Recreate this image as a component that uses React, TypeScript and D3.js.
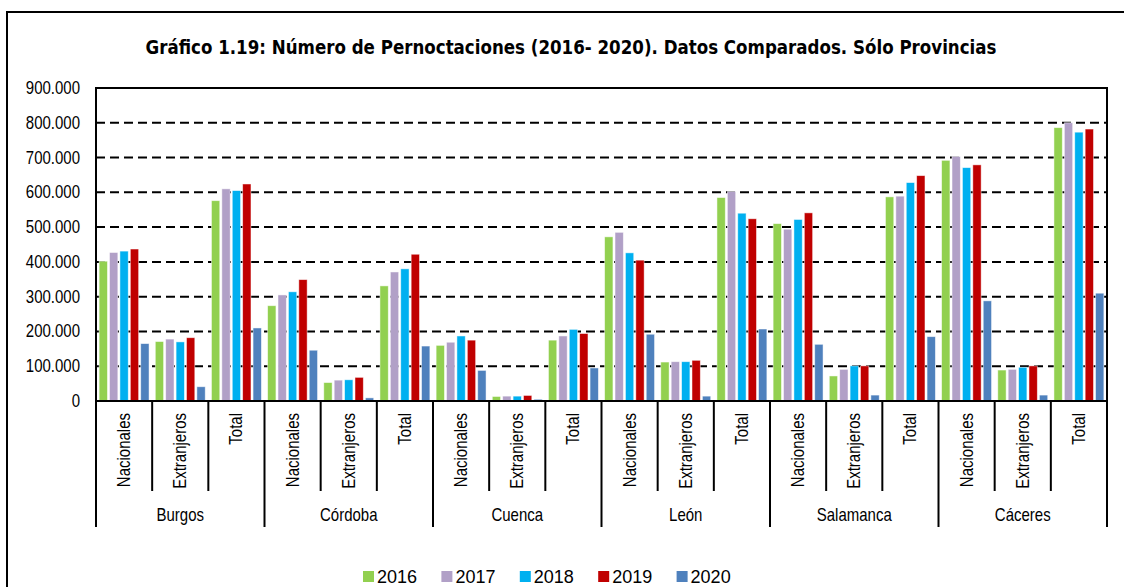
import React, { Component } from "react";
import * as d3 from "d3";

const provincias = ["Burgos", "Córdoba", "Cuenca", "León", "Salamanca", "Cáceres"];
const tipos = ["Nacionales", "Extranjeros", "Total"];
const years = ["2016", "2017", "2018", "2019", "2020"];
const colors = ["#92D050", "#B1A0C7", "#00B0F0", "#C00000", "#4F81BD"];
const yTicks = [0, 100000, 200000, 300000, 400000, 500000, 600000, 700000, 800000, 900000];

// one row per province, Nacionales / Extranjeros / Total, values 2016..2020
const burgos = [
  [402000, 427000, 431000, 437000, 165000],
  [171000, 178000, 170000, 182000, 41000],
  [576000, 610000, 605000, 624000, 210000],
];
const cordoba = [
  [274000, 305000, 314000, 349000, 146000],
  [53000, 60000, 61000, 68000, 9000],
  [331000, 371000, 380000, 422000, 158000],
];
const cuenca = [
  [160000, 169000, 187000, 175000, 88000],
  [13000, 14000, 14000, 16000, 5000],
  [175000, 187000, 206000, 194000, 95000],
];
const leon = [
  [472000, 485000, 426000, 405000, 192000],
  [112000, 113000, 113000, 117000, 14000],
  [585000, 602000, 540000, 524000, 207000],
];
const salamanca = [
  [510000, 494000, 522000, 541000, 163000],
  [72000, 91000, 101000, 101000, 17000],
  [587000, 589000, 628000, 648000, 185000],
];
const caceres = [
  [692000, 703000, 671000, 679000, 288000],
  [89000, 91000, 97000, 101000, 17000],
  [786000, 800000, 773000, 782000, 310000],
];
const valores = [burgos, cordoba, cuenca, leon, salamanca, caceres];

class App extends Component {
  svgRef = React.createRef<SVGSVGElement>();

  componentDidMount() {
    this.draw();
  }

  draw() {
    var svg = d3.select(this.svgRef.current);
    var left = 96, right = 1107, top = 88, bottom = 401;
    var font = "'Liberation Sans', Arial, sans-serif";

    var cats: { prov: string; tipo: string; key: string; vals: number[] }[] = [];
    provincias.forEach((p, i) => {
      tipos.forEach((t, j) => cats.push({ prov: p, tipo: t, key: p + "|" + t, vals: valores[i][j] }));
    });

    const x0 = d3.scaleBand().domain(cats.map(c => c.key)).range([left, right]);
    const xg = d3.scaleBand().domain(provincias).range([left, right]);
    const x1 = d3.scaleBand().domain(years).range([0, x0.bandwidth()]).paddingInner(0.2).paddingOuter(0.3);
    const y = d3.scaleLinear().domain([0, 900000]).range([bottom, top]);
    const fmt = (v: number) => v === 0 ? "0" : d3.format(",")(v).replace(/,/g, ".");

    // outer frame
    svg.append("rect").attr("x", 7).attr("y", 12).attr("width", 1130).attr("height", 600)
      .attr("fill", "white").attr("stroke", "black").attr("stroke-width", 2);

    svg.append("text").attr("transform", "translate(571,54) scale(1,1.3)").attr("text-anchor", "middle")
      .style("font-family", "'DejaVu Sans', Verdana, sans-serif").style("font-weight", "bold")
      .style("font-size", "15px").attr("textLength", 851).attr("lengthAdjust", "spacingAndGlyphs")
      .text("Gráfico 1.19: Número de Pernoctaciones (2016- 2020). Datos Comparados. Sólo Provincias");

    // grid
    svg.append("g").selectAll("line").data(yTicks.filter(t => t > 0 && t < 900000)).join("line")
      .attr("x1", left).attr("x2", right).attr("y1", d => y(d)).attr("y2", d => y(d))
      .attr("stroke", "black").attr("stroke-width", 2).attr("stroke-dasharray", "9,5");

    // y labels
    svg.append("g").selectAll("text").data(yTicks).join("text")
      .attr("transform", d => `translate(80,${y(d)}) scale(1,1.2)`)
      .attr("text-anchor", "end").attr("dominant-baseline", "central")
      .style("font-family", font).style("font-size", "15px").text(d => fmt(d));

    // bars
    const g = svg.append("g").selectAll("g").data(cats).join("g")
      .attr("transform", d => `translate(${x0(d.key)},0)`);
    g.selectAll("rect").data(d => d.vals.map((v, i) => ({ v, i }))).join("rect")
      .attr("x", d => x1(years[d.i])!).attr("width", x1.bandwidth())
      .attr("y", d => y(d.v)).attr("height", d => bottom - y(d.v))
      .attr("fill", d => colors[d.i]).attr("stroke", "white").attr("stroke-opacity", 0.6).attr("stroke-width", 0.8);

    // plot frame
    svg.append("rect").attr("x", left).attr("y", top).attr("width", right - left).attr("height", bottom - top)
      .attr("fill", "none").attr("stroke", "black").attr("stroke-width", 2);

    // x axis: tipo ticks and group ticks
    svg.append("g").selectAll("line").data(cats).join("line")
      .attr("x1", d => x0(d.key)!).attr("x2", d => x0(d.key)!)
      .attr("y1", bottom).attr("y2", d => d.tipo === "Nacionales" ? 527 : 491)
      .attr("stroke", "black").attr("stroke-width", 2);
    svg.append("line").attr("x1", right).attr("x2", right).attr("y1", bottom).attr("y2", 527)
      .attr("stroke", "black").attr("stroke-width", 2);

    svg.append("g").selectAll("text").data(cats).join("text")
      .attr("transform", d => `translate(${x0(d.key)! + x0.bandwidth() / 2},413) rotate(-90) scale(1,1.2)`)
      .attr("text-anchor", "end").attr("dominant-baseline", "central")
      .style("font-family", font).style("font-size", "15px").text(d => d.tipo);

    svg.append("g").selectAll("text").data(provincias).join("text")
      .attr("transform", d => `translate(${xg(d)! + xg.bandwidth() / 2},515) scale(1,1.2)`)
      .attr("text-anchor", "middle").attr("dominant-baseline", "central")
      .style("font-family", font).style("font-size", "15px").text(d => d);

    // legend
    const lx = d3.scaleBand().domain(years).range([363, 755]);
    const lg = svg.append("g").selectAll("g").data(years).join("g")
      .attr("transform", d => `translate(${lx(d)},571)`);
    lg.append("rect").attr("width", 11).attr("height", 11).attr("fill", (d, i) => colors[i]);
    lg.append("text").attr("x", 14).attr("y", 6).attr("dominant-baseline", "central")
      .style("font-family", font).style("font-size", "18px").text(d => d);
  }

  render() {
    return (
      <svg ref={this.svgRef} width={1124} height={587}
        style={{ position: "absolute", left: 0, top: 0, background: "white" }}></svg>
    );
  }
}

export default App;
